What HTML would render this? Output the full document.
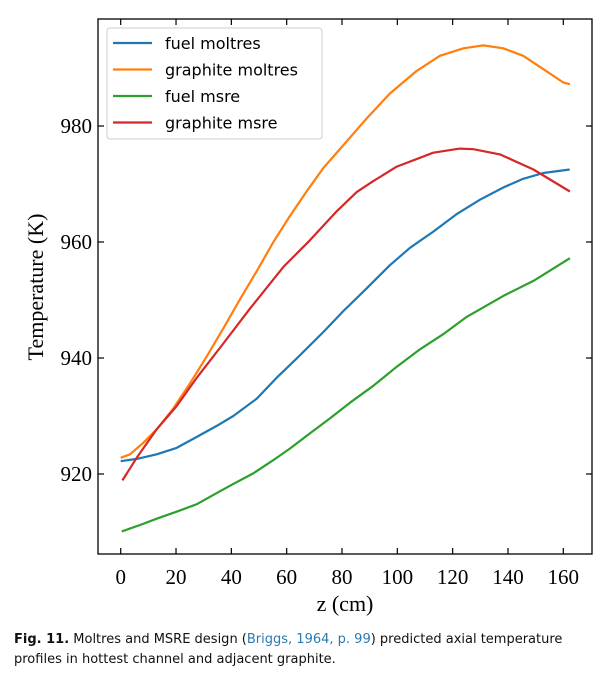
<!DOCTYPE html>
<html><head><meta charset="utf-8"><style>
body{margin:0;background:#fff;width:610px;height:677px;overflow:hidden}
svg{display:block}
.cap{position:absolute;left:14px;top:630px;width:596px;font-family:"DejaVu Sans","Liberation Sans",sans-serif;font-size:13px;line-height:20px;color:#111}
</style></head><body>
<svg id="chart" width="610" height="625"></svg>
<div class="cap"><b>Fig. 11.</b> Moltres and MSRE design (<span style="color:#2a7ab0">Briggs, 1964, p. 99</span>) predicted axial temperature profiles in hottest channel and adjacent graphite.</div>
<script>
const xTicks=[0,20,40,60,80,100,120,140,160];
const yTicks=[920,940,960,980];
const names=["fuel moltres","graphite moltres","fuel msre","graphite msre"];
const colors=["#1f77b4","#ff7f0e","#2ca02c","#d62728"];
const fuelMoltresZ=[0,5.8,13,20.2,27.5,34.7,40.7,49.2,56.4,63.6,73.3,80.5,88.9,97.3,104.6,113,121.4,129.9,138.3,145.5,152.8,162.3];
const fuelMoltresT=[922.2,922.6,923.4,924.5,926.4,928.3,930,933,936.6,939.9,944.5,948.1,952,956,959,961.8,964.8,967.3,969.4,970.9,971.9,972.5];
const graphMoltresZ=[0,3.4,8.2,13,19,25,31,37.1,43.1,49.2,55.2,61.2,67.3,73.3,80.5,88.9,97.3,107,115.4,123.9,131.1,138.3,145.5,152.8,160,162.4];
const graphMoltresT=[922.8,923.4,925.4,927.7,931.3,935.6,940.2,945.1,950.1,955,960,964.5,968.8,972.8,976.7,981.3,985.6,989.5,992.1,993.4,993.9,993.4,992.1,989.8,987.5,987.2];
const fuelMsreZ=[0.4,7,13,20.2,27.5,34.7,40.7,47.9,55.2,61.2,68.4,75.7,82.9,91.3,99.8,108.2,116.6,125.1,129.9,138.3,149.2,162.4];
const fuelMsreT=[910.1,911.2,912.3,913.5,914.8,916.7,918.3,920.1,922.4,924.4,927,929.6,932.3,935.2,938.5,941.5,944.1,947.1,948.4,950.7,953.3,957.2];
const graphMsreZ=[0.6,5.8,13,20.2,27.5,37.1,46.7,58.8,68.4,78.1,85.3,91.3,99.8,113,122.6,127.5,137.1,149.2,162.4];
const graphMsreT=[918.9,922.8,927.7,931.7,936.6,942.5,948.5,955.7,960.3,965.3,968.6,970.5,973,975.4,976.1,976,975.1,972.5,968.7];
const series=[[fuelMoltresZ,fuelMoltresT],[graphMoltresZ,graphMoltresT],[fuelMsreZ,fuelMsreT],[graphMsreZ,graphMsreT]];
const L=98,R=592,T=19,B=554;
const sx=v=>120.7+v*(563.3-120.7)/160;
const sy=v=>474-(v-920)*(474-126)/60;
const svg=document.getElementById('chart');
const NS="http://www.w3.org/2000/svg";
function mk(tag,attrs,parent){const e=document.createElementNS(NS,tag);for(const k in attrs)e.setAttribute(k,attrs[k]);(parent||svg).appendChild(e);return e;}
series.forEach((s,i)=>{
  const d=s[0].map((z,j)=>(j?'L':'M')+sx(z).toFixed(1)+','+sy(s[1][j]).toFixed(1)).join('');
  const p=mk('path',{d:d,fill:'none',stroke:colors[i],'stroke-width':2.2,'stroke-linejoin':'round'});
  
  
});
const fr=mk('rect',{x:L,y:T,width:R-L,height:B-T,fill:'none',stroke:'#000','stroke-width':1.3});


xTicks.forEach(v=>{
  const x=sx(v);
  mk('line',{x1:x,x2:x,y1:B,y2:B-6,stroke:'#000','stroke-width':1.2});
  mk('line',{x1:x,x2:x,y1:T,y2:T+6,stroke:'#000','stroke-width':1.2});
  const t=mk('text',{x:x,y:B+30,'text-anchor':'middle','font-family':'Liberation Serif, serif','font-size':21});
  t.textContent=v;
  
  
});
yTicks.forEach(v=>{
  const y=sy(v);
  mk('line',{x1:L,x2:L+6,y1:y,y2:y,stroke:'#000','stroke-width':1.2});
  mk('line',{x1:R,x2:R-6,y1:y,y2:y,stroke:'#000','stroke-width':1.2});
  const t=mk('text',{x:L-6,y:y+7,'text-anchor':'end','font-family':'Liberation Serif, serif','font-size':21});
  t.textContent=v;
  
  
});
const xt=mk('text',{x:(L+R)/2,y:611,'text-anchor':'middle','font-family':'Liberation Serif, serif','font-size':22});
xt.textContent='z (cm)';


const yt=mk('text',{x:0,y:0,transform:'translate(43,287) rotate(-90)','text-anchor':'middle','font-family':'Liberation Serif, serif','font-size':22});
yt.textContent='Temperature (K)';


const lg=mk('g',{});


mk('rect',{x:107,y:28,width:215,height:111,rx:3,fill:'#fff',stroke:'#ccc','stroke-width':1},lg);
names.forEach((n,i)=>{
  const y=43+i*26.5;
  const e=mk('g',{},lg);
  
  
  mk('line',{x1:113,x2:152,y1:y,y2:y,stroke:colors[i],'stroke-width':2.2},e);
  const t=mk('text',{x:165,y:y+6,'font-family':'DejaVu Sans, sans-serif','font-size':16},e);
  t.textContent=n;
});
</script>
</body></html>
